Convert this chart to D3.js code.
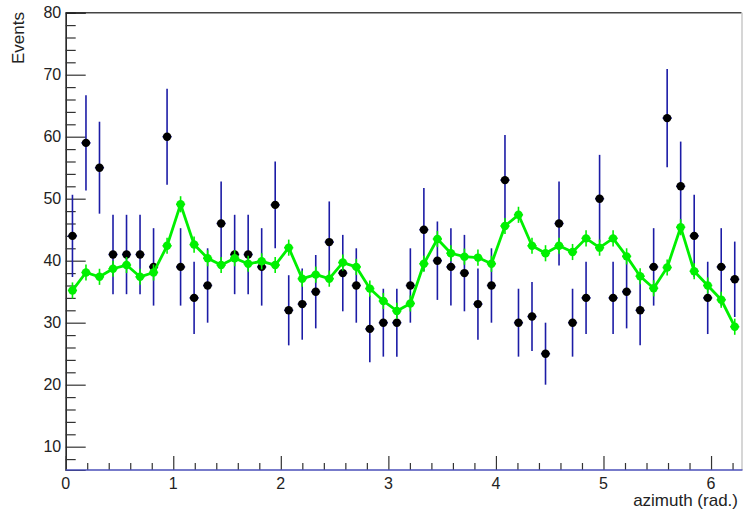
<!DOCTYPE html>
<html>
<head>
<meta charset="utf-8">
<script src="https://cdn.jsdelivr.net/npm/d3@7"></script>
<style>
html,body{margin:0;padding:0;background:#fff;}
svg{display:block;}
text{font-family:"Liberation Sans",Arial,Helvetica,sans-serif;fill:#222;}
</style>
</head>
<body>
<svg id="chart" width="743" height="512"></svg>
<script>
// ---- data ----
const nBins = 50;
const xMin = 0, xMax = 2 * Math.PI;
const yMin = 6.24, yMax = 80;
const dataCounts = [44,59,55,41,41,41,39,60,39,34,36,46,41,41,39,49,32,33,35,43,38,36,29,30,30,36,45,40,39,38,33,36,53,30,31,25,46,30,34,50,34,35,32,39,63,52,44,34,39,37];
const modelValues = [35.2,38.1,37.4,38.7,39.3,37.4,38.1,42.4,49.1,42.6,40.4,39.3,40.4,39.5,39.9,39.3,42.1,37.1,37.75,37.1,39.7,39.0,35.5,33.5,31.9,33.1,39.5,43.5,41.2,40.65,40.5,39.5,45.6,47.4,42.4,41.2,42.4,41.4,43.6,42.1,43.6,40.7,37.5,35.55,38.9,45.4,38.3,36.0,33.7,29.35];
const modelErrors = [1.3,1.3,1.3,1.3,1.3,1.3,1.3,1.3,1.3,1.3,1.3,1.3,1.3,1.3,1.3,1.3,1.3,1.3,1.3,1.3,1.3,1.3,1.3,1.3,1.3,1.3,1.3,1.3,1.3,1.3,1.3,1.3,1.3,1.3,1.3,1.3,1.3,1.3,1.3,1.3,1.3,1.3,1.3,1.3,1.3,1.3,1.3,1.3,1.3,1.3];
const xTickValues = [0,1,2,3,4,5,6];
const yTickValues = [10,20,30,40,50,60,70,80];
const xTitle = "azimuth (rad.)";
const yTitle = "Events";

// ---- layout ----
const frame = {left: 65.7, right: 741.5, top: 12.7, bottom: 470};
const svg = d3.select("#chart");
const x = d3.scaleLinear().domain([xMin, xMax]).range([frame.left, frame.right]);
const y = d3.scaleLinear().domain([yMin, yMax]).range([frame.bottom, frame.top]);
const binW = (xMax - xMin) / nBins;
const centers = d3.range(nBins).map(i => xMin + (i + 0.5) * binW);

const data = centers.map((c, i) => ({x: c, v: dataCounts[i], e: Math.sqrt(dataCounts[i])}));
const model = centers.map((c, i) => ({x: c, v: modelValues[i], e: modelErrors[i]}));

// frame lines
svg.append("line").attr("x1", frame.left).attr("x2", frame.right).attr("y1", frame.top).attr("y2", frame.top)
  .attr("stroke", "#444").attr("stroke-width", 1.5);
svg.append("line").attr("x1", frame.right + 0.5).attr("x2", frame.right + 0.5).attr("y1", frame.top).attr("y2", frame.bottom)
  .attr("stroke", "#bbb").attr("stroke-width", 1.2);

// y axis
const yMinor = d3.range(8, 80.01, 2).filter(v => v % 10 !== 0);
const yAxisMajor = d3.axisRight(y).tickValues(yTickValues).tickSize(20).tickFormat("");
const yAxisMinor = d3.axisRight(y).tickValues(yMinor).tickSize(10).tickFormat("");
const gy = svg.append("g").attr("transform", `translate(${frame.left},0)`);
gy.call(yAxisMajor);
gy.append("g").call(yAxisMinor);
gy.selectAll(".domain").attr("stroke", "#222").attr("stroke-width", 1.2);
gy.selectAll(".tick line").attr("stroke", "#333").attr("stroke-width", 1.2);
svg.append("g").selectAll("text").data(yTickValues).join("text")
  .attr("x", frame.left - 4.5).attr("y", d => y(d)).attr("dy", "0.36em")
  .attr("text-anchor", "end").attr("font-size", 16).text(d => d);

// x axis
const xMinor = d3.range(0, 6.3, 0.2).filter(v => Math.abs(v - Math.round(v)) > 1e-6);
const xAxisMajor = d3.axisTop(x).tickValues(xTickValues).tickSize(14).tickFormat("");
const xAxisMinor = d3.axisTop(x).tickValues(xMinor).tickSize(7).tickFormat("");
const gx = svg.append("g").attr("transform", `translate(0,${frame.bottom})`);
gx.call(xAxisMajor);
gx.append("g").call(xAxisMinor);
gx.selectAll(".domain").remove();
gx.selectAll(".tick line").attr("stroke", "#333").attr("stroke-width", 1.2);
svg.append("line").attr("x1", frame.left).attr("x2", frame.right + 1).attr("y1", frame.bottom).attr("y2", frame.bottom)
  .attr("stroke", "#4a4fb8").attr("stroke-width", 1.6);
svg.append("g").selectAll("text").data(xTickValues).join("text")
  .attr("x", d => x(d)).attr("y", 488.5)
  .attr("text-anchor", "middle").attr("font-size", 16).text(d => d);

// axis titles
svg.append("text").attr("x", 738).attr("y", 506).attr("text-anchor", "end")
  .attr("font-size", 17).text(xTitle);
svg.append("text").attr("transform", "translate(24,12) rotate(-90)").attr("text-anchor", "end")
  .attr("font-size", 17).text(yTitle);

// data points with error bars
const blue = "#1c1ca6";
const hx = binW * 0.34;
const gd = svg.append("g");
gd.selectAll("line.v").data(data).join("line").attr("class", "v")
  .attr("x1", d => x(d.x)).attr("x2", d => x(d.x))
  .attr("y1", d => y(d.v - d.e)).attr("y2", d => y(d.v + d.e))
  .attr("stroke", blue).attr("stroke-width", 1.6);
gd.selectAll("line.h").data(data).join("line").attr("class", "h")
  .attr("x1", d => x(d.x - hx)).attr("x2", d => x(d.x + hx))
  .attr("y1", d => y(d.v)).attr("y2", d => y(d.v))
  .attr("stroke", blue).attr("stroke-width", 1.6);
gd.selectAll("circle").data(data).join("circle")
  .attr("cx", d => x(d.x)).attr("cy", d => y(d.v)).attr("r", 4.2).attr("fill", "#000");

// model line
const green = "#00f000";
const gm = svg.append("g");
gm.append("path").datum(model)
  .attr("d", d3.line().x(d => x(d.x)).y(d => y(d.v)))
  .attr("fill", "none").attr("stroke", green).attr("stroke-width", 2.8).attr("stroke-linejoin", "round");
gm.selectAll("line.v").data(model).join("line").attr("class", "v")
  .attr("x1", d => x(d.x)).attr("x2", d => x(d.x))
  .attr("y1", d => y(d.v - d.e)).attr("y2", d => y(d.v + d.e))
  .attr("stroke", green).attr("stroke-width", 1.6);
gm.selectAll("line.h").data(model).join("line").attr("class", "h")
  .attr("x1", d => x(d.x - hx)).attr("x2", d => x(d.x + hx))
  .attr("y1", d => y(d.v)).attr("y2", d => y(d.v))
  .attr("stroke", green).attr("stroke-width", 1.6);
gm.selectAll("circle").data(model).join("circle")
  .attr("cx", d => x(d.x)).attr("cy", d => y(d.v)).attr("r", 4.2).attr("fill", green);
</script>
</body>
</html>
